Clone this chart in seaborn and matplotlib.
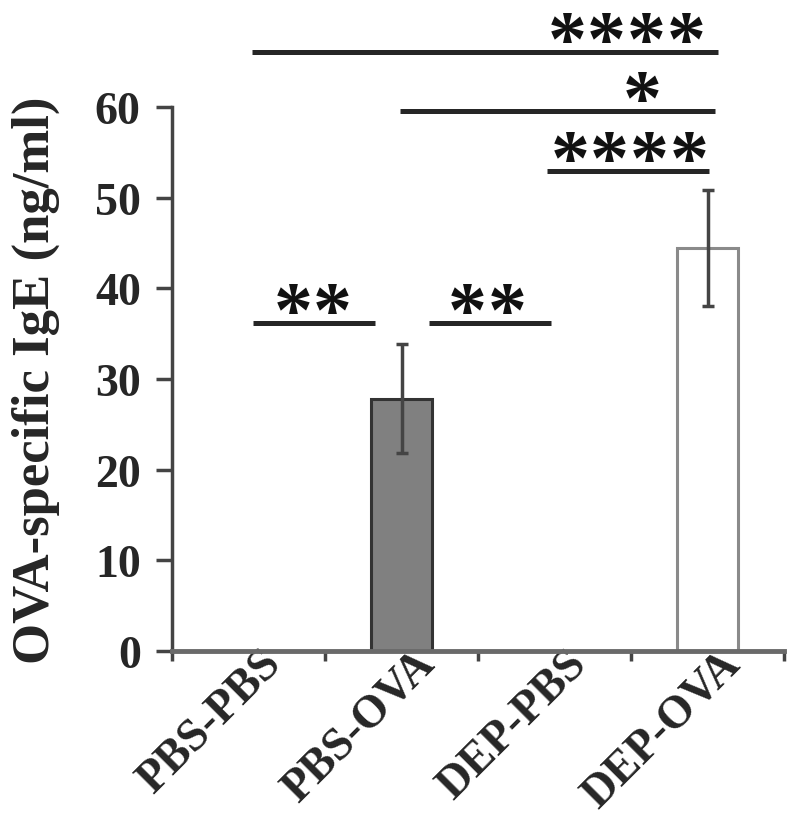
import matplotlib
matplotlib.use('Agg')
import matplotlib.pyplot as plt
import matplotlib.transforms as mtransforms
import seaborn as sns

# data
groups = ['PBS-PBS', 'PBS-OVA', 'DEP-PBS', 'DEP-OVA']
means = [0.0, 27.8, 0.0, 44.4]
errors = [0.0, 6.0, 0.0, 6.4]
y_label = 'OVA-specific IgE (ng/ml)'
y_ticks = [0, 10, 20, 30, 40, 50, 60]

# significance comparisons: (from group, to group, stars)
comp_from = ['PBS-PBS', 'PBS-OVA', 'PBS-PBS', 'PBS-OVA', 'DEP-PBS']
comp_to = ['PBS-OVA', 'DEP-PBS', 'DEP-OVA', 'DEP-OVA', 'DEP-OVA']
comp_stars = ['**', '**', '****', '*', '****']

# layout of the comparison bars (not data)
comp_level = [36.2, 36.2, 66.1, 59.6, 52.9]
comp_pad = [(0.03, -0.17), (0.18, -0.02), (0.02, 0.07), (-0.01, 0.05), (-0.05, 0.01)]
star_x = [0.42, 1.56, 2.47, 2.57, 2.49]

sns.set_style('white')
plt.rcParams['font.family'] = ['Liberation Serif', 'DejaVu Serif']
plt.rcParams['font.weight'] = 'bold'

fig = plt.figure(figsize=(8, 8.2), dpi=100)
ax = fig.add_axes([0.215, 0.205, 0.765, 0.6634])

bar_colors = ['#808080', '#808080', '#808080', '#ffffff']
sns.barplot(x=groups, y=means, hue=groups, palette=bar_colors, legend=False,
            width=0.4, errorbar=None, ax=ax, saturation=1)

edge_colors = ['none', '#333333', 'none', '#8a8a8a']
for patch, ec, m in zip(ax.patches, edge_colors, means):
    patch.set_edgecolor(ec)
    patch.set_linewidth(2.2)
    if m == 0:
        patch.set_visible(False)

idx = [i for i, m in enumerate(means) if m > 0]
ax.errorbar(idx, [means[i] for i in idx], yerr=[errors[i] for i in idx],
            fmt='none', ecolor='#444444', elinewidth=2.5, capsize=4, capthick=2.5)

# significance bars
for a, b, s, lvl, pad, sx in zip(comp_from, comp_to, comp_stars, comp_level, comp_pad, star_x):
    xa = groups.index(a) + pad[0]
    xb = groups.index(b) + pad[1]
    ax.plot([xa, xb], [lvl, lvl], color='#262626', lw=3.6, clip_on=False,
            solid_capstyle='butt')
    n = len(s)
    for k in range(n):
        ax.annotate('*', xy=(sx, lvl), xytext=((k - (n - 1) / 2) * 28.5, -8),
                    textcoords='offset points', ha='center', va='baseline',
                    fontsize=56, fontweight='bold', color='#111111',
                    annotation_clip=False)

ax.set_xlim(-0.5, 3.5)
ax.set_ylim(0, 60)
ax.set_yticks(y_ticks)
ax.set_yticklabels([str(t) for t in y_ticks], fontsize=33, fontweight='bold')
ax.tick_params(axis='y', length=11.5, width=2.5, color='#444444', pad=11, left=True)

ax.set_xticks(range(len(groups)))
ax.set_xticklabels(groups, fontsize=33, fontweight='bold', rotation=45,
                   ha='right', va='baseline', rotation_mode='anchor')
ax.tick_params(axis='x', which='major', length=0, pad=0)
offset = mtransforms.ScaledTranslation(0.34, -0.14, fig.dpi_scale_trans)
for lab in ax.get_xticklabels():
    lab.set_transform(lab.get_transform() + offset)
ax.set_xticks([-0.5, 0.5, 1.5, 2.5, 3.5], minor=True)
ax.tick_params(axis='x', which='minor', length=7, width=2.5, color='#444444', bottom=True)

ax.set_ylabel(y_label, fontsize=38, fontweight='bold')
ax.yaxis.set_label_coords(-0.183, 0.5)
ax.set_xlabel('')

sns.despine(ax=ax)
ax.spines['left'].set_color('#444444')
ax.spines['left'].set_linewidth(2.5)
ax.spines['bottom'].set_color('#6a6a6a')
ax.spines['bottom'].set_linewidth(3.5)

fig.savefig('out.png', dpi=100)
